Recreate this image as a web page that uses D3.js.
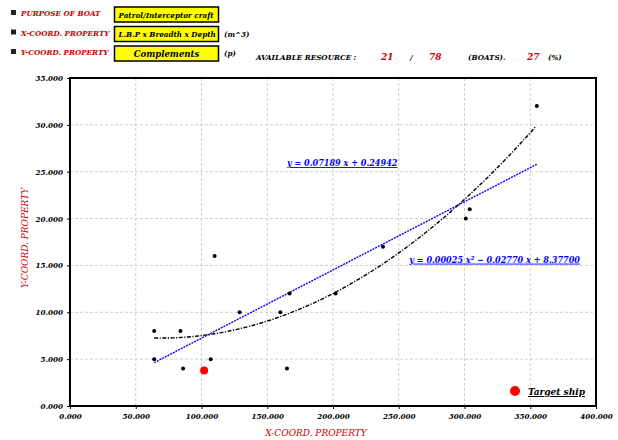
<!DOCTYPE html>
<html>
<head>
<meta charset="utf-8">
<script src="https://cdnjs.cloudflare.com/ajax/libs/d3/7.8.5/d3.min.js"></script>
<style>
  body { margin: 0; background: #fff; }
  svg text { font-family: "DejaVu Serif Condensed", "DejaVu Serif", serif; font-style: italic; font-weight: bold; }
</style>
</head>
<body>
<div id="chart"></div>
<script>
// boats: x = L.B.P x Breadth x Depth (m^3), y = complements (p)
var boatX = [64, 64, 84, 86, 107, 110, 129, 160, 165, 167, 202, 238, 301, 304, 355];
var boatY = [8, 5, 8, 4, 5, 16, 10, 10, 4, 12, 12, 17, 20, 21, 32];
var target = [102, 3.8];
var xTicks = [0, 50, 100, 150, 200, 250, 300, 350, 400];
var yTicks = [0, 5, 10, 15, 20, 25, 30, 35];
var headerRows = [
  {label: "PURPOSE OF BOAT", box: "Patrol/Interceptor craft", unit: "", center: false},
  {label: "X-COORD. PROPERTY", box: "L.B.P x Breadth x Depth", unit: "(m^3)", center: false},
  {label: "Y-COORD. PROPERTY", box: "Complements", unit: "(p)", center: true}
];
var resource = {available: 21, total: 78, pct: 27};
var linLabel = "y = 0.07189 x + 0.24942";
var quadLabel = "y = 0.00025 x\u00B2 \u2212 0.02770 x + 8.37700";

var W = 618, H = 440;
var margin = {top: 78, right: 22, bottom: 34, left: 70};
var width = W - margin.left - margin.right,
    height = H - margin.top - margin.bottom;
var red = "#cc0000";

var svg = d3.select("#chart").append("svg")
    .attr("width", W).attr("height", H);

// header
var head = svg.append("g");
headerRows.forEach(function(r, i) {
  var y = 16 + i * 19.5;
  head.append("rect").attr("x", 11).attr("y", y - 6).attr("width", 5).attr("height", 5).attr("fill", "#222");
  head.append("text").attr("x", 21).attr("y", y).attr("fill", red)
    .style("font-size", "8px").text(r.label);
  head.append("rect").attr("x", 114.5).attr("y", y - 9).attr("width", 104).attr("height", 15)
    .attr("fill", "#ffff00").attr("stroke", "#000").attr("stroke-width", 1.5);
  head.append("text").attr("x", r.center ? 166.5 : 118.5).attr("y", y + 1.5)
    .attr("text-anchor", r.center ? "middle" : "start")
    .style("font-size", r.center ? "9.5px" : "8px").text(r.box);
  if (r.unit) head.append("text").attr("x", 224).attr("y", y + 1).style("font-size", "8px").text(r.unit);
});
var ry = 60;
head.append("text").attr("x", 256).attr("y", ry).style("font-size", "8px").text("AVAILABLE RESOURCE :");
head.append("text").attr("x", 381).attr("y", ry).attr("fill", red).style("font-size", "10px").text(resource.available);
head.append("text").attr("x", 410).attr("y", ry).style("font-size", "8px").text("/");
head.append("text").attr("x", 429).attr("y", ry).attr("fill", red).style("font-size", "10px").text(resource.total);
head.append("text").attr("x", 468).attr("y", ry).style("font-size", "8px").text("(BOATS).");
head.append("text").attr("x", 527).attr("y", ry).attr("fill", red).style("font-size", "10px").text(resource.pct);
head.append("text").attr("x", 548).attr("y", ry).style("font-size", "8px").text("(%)");

var g = svg.append("g").attr("transform", "translate(" + margin.left + "," + margin.top + ")");

var x = d3.scaleLinear().domain([0, 400]).range([0, width]);
var y = d3.scaleLinear().domain([0, 35]).range([height, 0]);

// grid
g.append("g").selectAll("line").data(xTicks.slice(1, -1)).enter().append("line")
  .attr("x1", function(d) { return x(d); }).attr("x2", function(d) { return x(d); })
  .attr("y1", 0).attr("y2", height)
  .attr("stroke", "#cfcfcf").attr("stroke-dasharray", "3,2");
g.append("g").selectAll("line").data(yTicks.slice(1, -1)).enter().append("line")
  .attr("y1", function(d) { return y(d); }).attr("y2", function(d) { return y(d); })
  .attr("x1", 0).attr("x2", width)
  .attr("stroke", "#cfcfcf").attr("stroke-dasharray", "3,2");

// axes
var xAxis = d3.axisBottom(x).tickValues(xTicks).tickFormat(d3.format(".3f")).tickSize(3).tickPadding(4);
var yAxis = d3.axisLeft(y).tickValues(yTicks).tickFormat(d3.format(".3f")).tickSize(3).tickPadding(4);
var gx = g.append("g").attr("transform", "translate(0," + height + ")").call(xAxis);
var gy = g.append("g").call(yAxis);
[gx, gy].forEach(function(a) {
  a.select(".domain").remove();
  a.selectAll("line").attr("stroke", "#000");
  a.selectAll("text").style("font-size", "8px").attr("fill", "#000");
});

g.append("rect").attr("width", width).attr("height", height)
  .attr("fill", "none").attr("stroke", "#000").attr("stroke-width", 2);

// least squares fits
function fitLinear(xs, ys) {
  var mx = d3.mean(xs), my = d3.mean(ys);
  var sxy = d3.sum(xs, function(v, i) { return (v - mx) * (ys[i] - my); });
  var sxx = d3.sum(xs, function(v) { return (v - mx) * (v - mx); });
  var b = sxy / sxx;
  return [my - b * mx, b];
}
function fitQuad(xs, ys) {
  var s = [0, 0, 0, 0, 0], t = [0, 0, 0];
  xs.forEach(function(v, i) {
    for (var k = 0; k < 5; k++) s[k] += Math.pow(v, k);
    for (var k2 = 0; k2 < 3; k2++) t[k2] += Math.pow(v, k2) * ys[i];
  });
  var A = [[s[0], s[1], s[2], t[0]], [s[1], s[2], s[3], t[1]], [s[2], s[3], s[4], t[2]]];
  for (var c = 0; c < 3; c++) {
    for (var r = c + 1; r < 3; r++) {
      var f = A[r][c] / A[c][c];
      for (var k3 = c; k3 < 4; k3++) A[r][k3] -= f * A[c][k3];
    }
  }
  var coef = [0, 0, 0];
  for (var r2 = 2; r2 >= 0; r2--) {
    var sum = A[r2][3];
    for (var k4 = r2 + 1; k4 < 3; k4++) sum -= A[r2][k4] * coef[k4];
    coef[r2] = sum / A[r2][r2];
  }
  return coef;
}
var lin = fitLinear(boatX, boatY);
var quad = fitQuad(boatX, boatY);
var xs = d3.range(d3.min(boatX), d3.max(boatX) + 0.1, 2);
var line = d3.line().x(function(d) { return x(d[0]); }).y(function(d) { return y(d[1]); });

g.append("path")
  .attr("d", line(xs.map(function(v) { return [v, quad[0] + quad[1] * v + quad[2] * v * v]; })))
  .attr("fill", "none").attr("stroke", "#000").attr("stroke-width", 1.4).attr("stroke-dasharray", "4,1.5,1.2,1.5");
g.append("path")
  .attr("d", line([d3.min(boatX), d3.max(boatX)].map(function(v) { return [v, lin[0] + lin[1] * v]; })))
  .attr("fill", "none").attr("stroke", "#0000ff").attr("stroke-width", 1.4).attr("stroke-dasharray", "2,1");

// points
g.append("g").selectAll("circle").data(boatX).enter().append("circle")
  .attr("cx", function(d) { return x(d); })
  .attr("cy", function(d, i) { return y(boatY[i]); })
  .attr("r", 2).attr("fill", "#000");
g.append("circle").attr("cx", x(target[0])).attr("cy", y(target[1])).attr("r", 4).attr("fill", "#ff0000");

// equations
function uText(tx, ty, txt, col, size) {
  return g.append("text").attr("x", tx).attr("y", ty).attr("fill", col)
    .style("font-size", size).style("text-decoration", "underline").text(txt);
}
uText(x(165), y(25.6), linLabel, "#0000ff", "9px");
uText(x(258), y(15.3), quadLabel, "#0000ff", "9px");

// legend
g.append("circle").attr("cx", 445).attr("cy", 313).attr("r", 5).attr("fill", "#ff0000");
uText(458, 317, "Target ship", "#000", "10px");

// axis titles
svg.append("text").attr("x", 316).attr("y", 436).attr("text-anchor", "middle")
  .attr("fill", red).style("font-size", "10px").style("font-weight", "normal").text("X-COORD. PROPERTY");
svg.append("text").attr("transform", "translate(28,238) rotate(-90)").attr("text-anchor", "middle")
  .attr("fill", red).style("font-size", "10px").style("font-weight", "normal").text("Y-COORD. PROPERTY");
</script>
</body>
</html>
